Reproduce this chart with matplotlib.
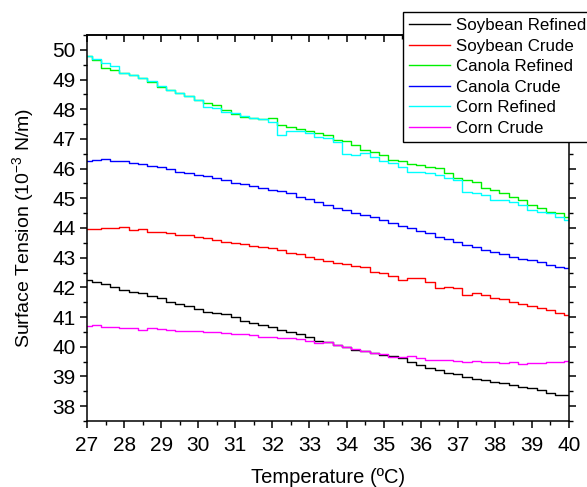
import matplotlib
matplotlib.use("Agg")
import matplotlib.pyplot as plt
from matplotlib.ticker import MultipleLocator

plt.rcParams['font.family'] = ['Liberation Sans', 'DejaVu Sans']
plt.rcParams['mathtext.fontset'] = 'custom'
plt.rcParams['mathtext.rm'] = 'Liberation Sans'
plt.rcParams['mathtext.it'] = 'Liberation Sans:italic'

temperature = [27.0, 27.25, 27.5, 27.75, 28.0, 28.25, 28.5, 28.75, 29.0, 29.25, 29.5, 29.75,
               30.0, 30.25, 30.5, 30.75, 31.0, 31.25, 31.5, 31.75, 32.0, 32.25, 32.5, 32.75,
               33.0, 33.25, 33.5, 33.75, 34.0, 34.25, 34.5, 34.75, 35.0, 35.25, 35.5, 35.75,
               36.0, 36.25, 36.5, 36.75, 37.0, 37.25, 37.5, 37.75, 38.0, 38.25, 38.5, 38.75,
               39.0, 39.25, 39.5, 39.75, 40.0]

soybean_refined = [42.25, 42.19, 42.11, 42.02, 41.91, 41.85, 41.80, 41.71, 41.63, 41.52, 41.44, 41.37,
                   41.26, 41.18, 41.15, 41.10, 40.99, 40.88, 40.79, 40.73, 40.65, 40.56, 40.51, 40.43,
                   40.34, 40.20, 40.17, 40.06, 39.98, 39.89, 39.86, 39.78, 39.72, 39.69, 39.61, 39.50,
                   39.38, 39.30, 39.21, 39.12, 39.08, 38.99, 38.93, 38.88, 38.82, 38.77, 38.71, 38.65,
                   38.60, 38.54, 38.45, 38.37, 38.37]

soybean_crude = [43.96, 43.98, 44.01, 43.99, 44.02, 43.93, 43.96, 43.88, 43.88, 43.84, 43.76, 43.76,
                 43.71, 43.65, 43.60, 43.54, 43.48, 43.46, 43.39, 43.35, 43.32, 43.26, 43.17, 43.12,
                 43.01, 42.94, 42.90, 42.83, 42.79, 42.71, 42.67, 42.53, 42.47, 42.38, 42.25, 42.30,
                 42.30, 42.19, 41.97, 42.02, 41.97, 41.74, 41.80, 41.74, 41.63, 41.60, 41.52, 41.44,
                 41.37, 41.29, 41.24, 41.15, 41.07]

canola_refined = [49.78, 49.66, 49.38, 49.33, 49.21, 49.16, 49.04, 48.93, 48.76, 48.65, 48.54, 48.45,
                  48.31, 48.20, 48.15, 47.98, 47.84, 47.75, 47.70, 47.66, 47.70, 47.47, 47.39, 47.33,
                  47.28, 47.21, 47.13, 46.97, 46.94, 46.80, 46.63, 46.57, 46.46, 46.29, 46.24, 46.16,
                  46.12, 46.07, 46.01, 45.84, 45.67, 45.62, 45.56, 45.34, 45.28, 45.17, 45.06, 44.94,
                  44.78, 44.66, 44.55, 44.49, 44.38]

canola_crude = [46.24, 46.29, 46.33, 46.27, 46.24, 46.18, 46.15, 46.09, 46.05, 45.98, 45.90, 45.84,
                45.79, 45.75, 45.68, 45.60, 45.53, 45.48, 45.42, 45.34, 45.28, 45.23, 45.17, 45.06,
                44.97, 44.86, 44.78, 44.66, 44.61, 44.52, 44.44, 44.36, 44.27, 44.18, 44.07, 43.99,
                43.91, 43.82, 43.71, 43.63, 43.54, 43.43, 43.35, 43.26, 43.18, 43.12, 43.03, 42.96,
                42.92, 42.84, 42.75, 42.68, 42.64]

corn_refined = [49.78, 49.70, 49.55, 49.44, 49.21, 49.16, 49.04, 48.95, 48.78, 48.65, 48.56, 48.45,
                48.31, 48.09, 48.03, 47.92, 47.86, 47.77, 47.70, 47.66, 47.58, 47.14, 47.28, 47.25,
                47.19, 47.08, 47.02, 46.91, 46.50, 46.46, 46.52, 46.40, 46.24, 46.18, 46.07, 45.90,
                45.87, 45.84, 45.79, 45.67, 45.62, 45.22, 45.17, 45.11, 44.94, 44.94, 44.89, 44.78,
                44.61, 44.55, 44.49, 44.38, 44.27]

corn_crude = [40.71, 40.73, 40.67, 40.67, 40.64, 40.62, 40.58, 40.62, 40.60, 40.56, 40.54, 40.53,
              40.54, 40.51, 40.51, 40.47, 40.43, 40.43, 40.39, 40.34, 40.34, 40.30, 40.31, 40.25,
              40.19, 40.14, 40.17, 40.06, 39.98, 39.91, 39.86, 39.80, 39.75, 39.66, 39.66, 39.69,
              39.61, 39.57, 39.57, 39.55, 39.53, 39.50, 39.53, 39.50, 39.50, 39.46, 39.50, 39.42,
              39.46, 39.44, 39.50, 39.50, 39.53]

series = [
    ("Soybean Refined", soybean_refined, "#000000"),
    ("Soybean Crude", soybean_crude, "#FF0000"),
    ("Canola Refined", canola_refined, "#00F000"),
    ("Canola Crude", canola_crude, "#0000FF"),
    ("Corn Refined", corn_refined, "#00FFFF"),
    ("Corn Crude", corn_crude, "#FF00FF"),
]

fig = plt.figure(figsize=(5.87, 4.87), dpi=100)
ax = fig.add_axes([87/587, 1 - 421/487, (569-87)/587, (421-35)/487])

for name, vals, col in series:
    ax.plot(temperature, vals, color=col, lw=1.0, drawstyle='steps-mid', label=name)

ax.set_xlim(27, 40)
ax.set_ylim(37.5, 50.5)
ax.xaxis.set_major_locator(MultipleLocator(1))
ax.xaxis.set_minor_locator(MultipleLocator(0.5))
ax.yaxis.set_major_locator(MultipleLocator(1))
ax.yaxis.set_minor_locator(MultipleLocator(0.5))

for s in ax.spines.values():
    s.set_linewidth(1.1)

ax.tick_params(axis='both', which='major', direction='out', length=5, width=1.1,
               labelsize=15, right=True, top=False)
ax.tick_params(axis='both', which='minor', direction='out', length=3, width=1.0,
               right=True, top=False)
ax.tick_params(axis='x', pad=6)
ax.tick_params(axis='y', pad=3)

sec = ax.secondary_xaxis('top')
sec.xaxis.set_major_locator(MultipleLocator(1))
sec.xaxis.set_minor_locator(MultipleLocator(0.5))
sec.tick_params(which='major', direction='in', length=5, width=1.1, labeltop=False)
sec.tick_params(which='minor', direction='in', length=3, width=1.0)
sec.spines['top'].set_linewidth(1.1)

ax.set_xlabel("Temperature (ºC)", fontsize=14.5, labelpad=9)
ax.set_ylabel(r"Surface Tension (10$^{\mathrm{-3}}$ N/m)", fontsize=14, labelpad=12)

leg = ax.legend(loc='upper left', bbox_to_anchor=(403/587, 1 - 12/487),
                bbox_transform=fig.transFigure, fontsize=12.2, frameon=True,
                fancybox=False, framealpha=1, edgecolor='black',
                handlelength=2.4, handletextpad=0.35, labelspacing=0.33,
                borderpad=0.35, borderaxespad=0)
leg.get_frame().set_linewidth(1.0)
leg.set_zorder(10)

fig.savefig("out.png", dpi=100)
